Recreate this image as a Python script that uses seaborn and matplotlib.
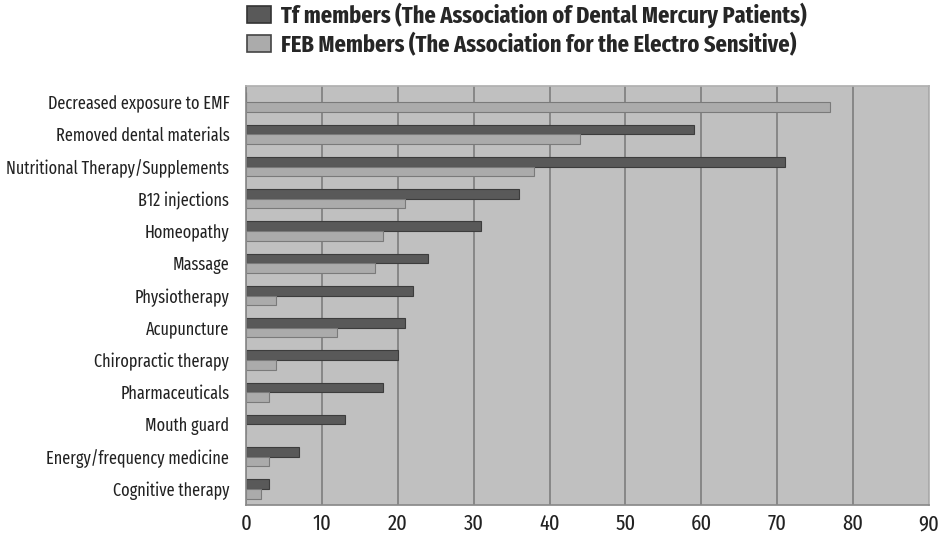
import matplotlib
matplotlib.use("Agg")
import matplotlib.pyplot as plt
from matplotlib.patches import Patch
import seaborn as sns
import pandas as pd
import numpy as np

treatments = [
    "Decreased exposure to EMF",
    "Removed dental materials",
    "Nutritional Therapy/Supplements",
    "B12 injections",
    "Homeopathy",
    "Massage",
    "Physiotherapy",
    "Acupuncture",
    "Chiropractic therapy",
    "Pharmaceuticals",
    "Mouth guard",
    "Energy/frequency medicine",
    "Cognitive therapy",
]
tf_members = [0, 59, 71, 36, 31, 24, 22, 21, 20, 18, 13, 7, 3]
feb_members = [77, 44, 38, 21, 18, 17, 4, 12, 4, 3, 0, 3, 2]
series_names = [
    "Tf members (The Association of Dental Mercury Patients)",
    "FEB Members (The Association for the Electro Sensitive)",
]
x_ticks = [0, 10, 20, 30, 40, 50, 60, 70, 80, 90]

df = pd.DataFrame({
    "treatment": treatments * 2,
    "value": tf_members + feb_members,
    "group": [series_names[0]] * len(treatments) + [series_names[1]] * len(treatments),
})

sns.set_theme(style="white")
fonts = ["Fira Sans Extra Condensed", "Fira Sans Condensed", "DejaVu Sans"]
plt.rcParams["font.family"] = fonts

fill_colors = ["#595959", "#ababab"]
edge_colors = ["#3c3c3c", "#7a7a7a"]

fig = plt.figure(figsize=(9.39, 5.42), dpi=100)
ax = fig.add_axes([246 / 939, 1 - 505 / 542, (929 - 246) / 939, (505 - 86) / 542])
ax.set_facecolor("#c0c0c0")

sns.barplot(
    data=df, y="treatment", x="value", hue="group", order=treatments,
    hue_order=series_names, palette=fill_colors, orient="h",
    width=0.6, gap=0, dodge=True, ax=ax, legend=False, saturation=1,
)
for container, ec in zip(ax.containers, edge_colors):
    for bar in container:
        bar.set_edgecolor(ec)
        bar.set_linewidth(0.8)

ax.set_xlim(0, 90)
ax.set_ylim(len(treatments) - 0.5, -0.5)
ax.set_xticks(x_ticks)
ax.set_xticklabels([str(t) for t in x_ticks], fontsize=16, color="#222222")
ax.tick_params(axis="x", length=0, pad=6)
ax.tick_params(axis="y", which="major", length=0, pad=12, labelsize=12.7, labelcolor="#222222")
ax.set_yticks(np.arange(-0.5, len(treatments), 1.0), minor=True)
ax.tick_params(axis="y", which="minor", length=4, color="#888888", direction="out")
ax.grid(axis="x", color="#777777", linewidth=1.1)
ax.set_axisbelow(True)
ax.set_xlabel("")
ax.set_ylabel("")
for side in ["top", "right"]:
    ax.spines[side].set_color("#b0b0b0")
for side in ["left", "bottom"]:
    ax.spines[side].set_color("#8a8a8a")

handles = [
    Patch(facecolor=fill_colors[0], edgecolor="#333333", linewidth=1.2),
    Patch(facecolor=fill_colors[1], edgecolor="#444444", linewidth=1.2),
]
fig.legend(
    handles, series_names, loc="upper left", bbox_to_anchor=(245 / 939, 1.0),
    frameon=False, prop={"family": fonts, "weight": "bold", "size": 17.5},
    handlelength=0.95, handleheight=0.7, handletextpad=0.45, labelspacing=0.2,
    borderaxespad=0.0, borderpad=0.1,
)

fig.savefig("out.png", dpi=100, facecolor="white")
